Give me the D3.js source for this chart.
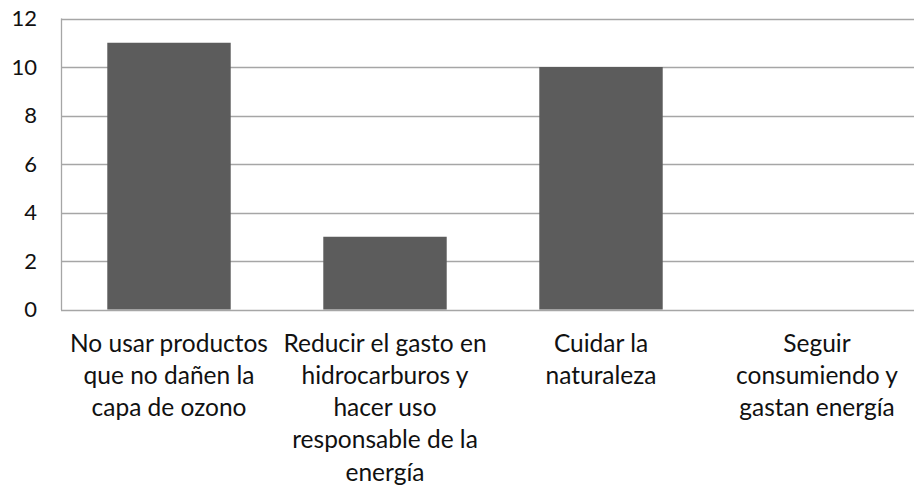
<!DOCTYPE html>
<html>
<head>
<meta charset="utf-8">
<script src="https://cdn.jsdelivr.net/npm/d3@7"></script>
<style>
  body { margin: 0; background: #fff; }
  svg { display: block; }
  .lbl { font-family: Lato, "Open Sans", sans-serif; font-size: 24.5px; fill: #111; }
  .tick { font-family: Lato, "Open Sans", sans-serif; font-size: 22px; fill: #111; }
</style>
</head>
<body>
<svg width="914" height="491"></svg>
<script>
const w = 914;
const h = 491;

const categories = [
  ['No usar productos', 'que no dañen la', 'capa de ozono'],
  ['Reducir el gasto en', 'hidrocarburos y', 'hacer uso', 'responsable de la', 'energía'],
  ['Cuidar la', 'naturaleza'],
  ['Seguir', 'consumiendo y', 'gastan energía']
];
const values = [11, 3, 10, 0];
const yTicks = [0, 2, 4, 6, 8, 10, 12];

const plotLeft = 61;
const plotRight = 925;
const plotTop = 18.5;
const plotBottom = 309.5;

let svg = d3.select('svg');

let xScale = d3.scaleBand()
  .domain(d3.range(values.length))
  .range([plotLeft, plotRight])
  .paddingInner(0.75 / 1.75)
  .paddingOuter(0.75 / 1.75 / 2);

let yScale = d3.scaleLinear().domain([0, 12]).range([plotBottom, plotTop]);

// gridlines
svg.append('g')
  .selectAll('line')
  .data(yTicks)
  .enter()
  .append('line')
  .attr('x1', plotLeft)
  .attr('x2', w)
  .attr('y1', (d) => Math.round(yScale(d)) + 0.5)
  .attr('y2', (d) => Math.round(yScale(d)) + 0.5)
  .attr('stroke', '#a6a6a6')
  .attr('stroke-width', 1.3);

// left axis line
svg.append('line')
  .attr('x1', plotLeft + 0.5).attr('x2', plotLeft + 0.5)
  .attr('y1', yScale(12)).attr('y2', yScale(0) + 0.5)
  .attr('stroke', '#a6a6a6')
  .attr('stroke-width', 1.3);

// bars
svg.append('g')
  .selectAll('rect')
  .data(values)
  .enter()
  .append('rect')
  .attr('x', (d, i) => xScale(i))
  .attr('width', xScale.bandwidth())
  .attr('y', (d) => yScale(d))
  .attr('height', (d) => yScale(0) - yScale(d))
  .attr('fill', '#5c5c5c');

// y tick labels
svg.append('g')
  .selectAll('text')
  .data(yTicks)
  .enter()
  .append('text')
  .attr('class', 'tick')
  .attr('x', 37)
  .attr('y', (d) => yScale(d))
  .attr('dy', '0.35em')
  .attr('text-anchor', 'end')
  .text((d) => d);

// category labels
let cat = svg.append('g')
  .selectAll('text')
  .data(categories)
  .enter()
  .append('text')
  .attr('class', 'lbl')
  .attr('text-anchor', 'middle')
  .attr('x', (d, i) => xScale(i) + xScale.bandwidth() / 2)
  .attr('y', 343);

cat.selectAll('tspan')
  .data((d) => d)
  .enter()
  .append('tspan')
  .attr('x', function () { return d3.select(this.parentNode).attr('x'); })
  .attr('dy', (d, i) => (i === 0 ? '0.35em' : '32.3px'))
  .text((d) => d);
</script>
</body>
</html>
